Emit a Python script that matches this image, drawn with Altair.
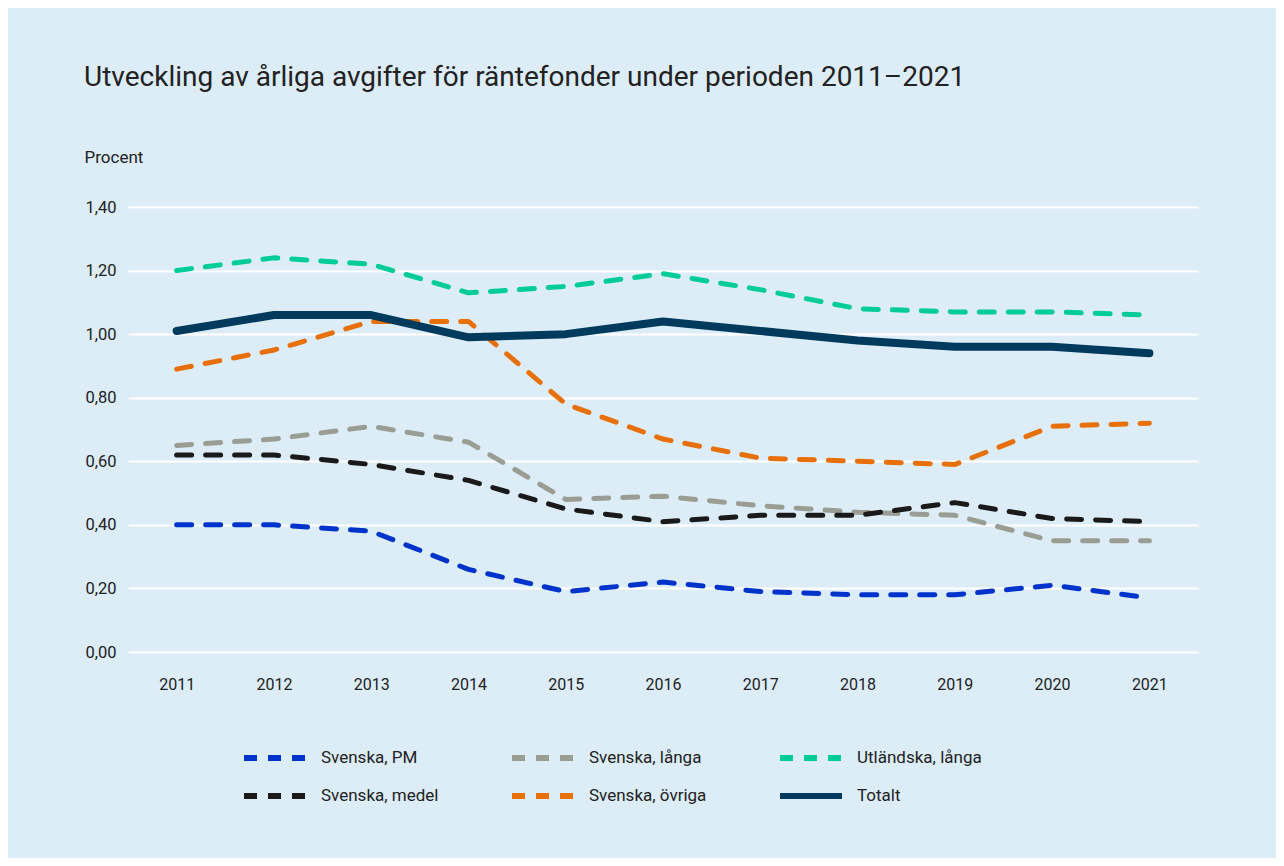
import altair as alt
import pandas as pd

years = ["2011", "2012", "2013", "2014", "2015", "2016", "2017", "2018", "2019", "2020", "2021"]

series_names = ["Svenska, PM", "Svenska, långa", "Utländska, långa",
                "Svenska, medel", "Svenska, övriga", "Totalt"]

svenska_pm = [0.40, 0.40, 0.38, 0.26, 0.19, 0.22, 0.19, 0.18, 0.18, 0.21, 0.17]
svenska_langa = [0.65, 0.67, 0.71, 0.66, 0.48, 0.49, 0.46, 0.44, 0.43, 0.35, 0.35]
utlandska_langa = [1.20, 1.24, 1.22, 1.13, 1.15, 1.19, 1.14, 1.08, 1.07, 1.07, 1.06]
svenska_medel = [0.62, 0.62, 0.59, 0.54, 0.45, 0.41, 0.43, 0.43, 0.47, 0.42, 0.41]
svenska_ovriga = [0.89, 0.95, 1.04, 1.04, 0.78, 0.67, 0.61, 0.60, 0.59, 0.71, 0.72]
totalt = [1.01, 1.06, 1.06, 0.99, 1.00, 1.04, 1.01, 0.98, 0.96, 0.96, 0.94]

color_map = {
    "Svenska, PM": "#0033CC",
    "Svenska, långa": "#9A9D94",
    "Utländska, långa": "#00CC99",
    "Svenska, medel": "#1A1A1A",
    "Svenska, övriga": "#E8700A",
    "Totalt": "#003A5C",
}

# legend is filled column by column: order so that rows read as in the reference
legend_order = ["Svenska, PM", "Svenska, medel", "Svenska, långa",
                "Svenska, övriga", "Utländska, långa", "Totalt"]

values = [svenska_pm, svenska_langa, utlandska_langa, svenska_medel, svenska_ovriga, totalt]
rows = []
for name, vals in zip(series_names, values):
    for y, v in zip(years, vals):
        rows.append({"year": y, "serie": name, "value": v})
df = pd.DataFrame(rows)

FONT = "Roboto"
BG = "#DCEDF7"
TXT = "#222222"

legend = alt.Legend(
    title=None,
    orient="none",
    legendX=113,
    legendY=541,
    columns=3,
    symbolType="stroke",
    symbolSize=3844,
    symbolDash={"expr": "datum.value === 'Totalt' ? [1, 0] : [13, 11]"},
    symbolStrokeWidth=6,
    clipHeight=20,
    labelFontSize=17,
    labelFont=FONT,
    labelColor=TXT,
    labelOffset=12,
    rowPadding=18,
    columnPadding=70,
    labelLimit=300,
)

x_enc = alt.X("year:O", sort=years,
              scale=alt.Scale(type="point", padding=0.5),
              axis=alt.Axis(title=None, labelAngle=0, domain=False, ticks=False,
                            labelPadding=24, labelFontSize=16, labelFont=FONT,
                            labelColor=TXT, grid=False))
y_enc = alt.Y("value:Q",
              scale=alt.Scale(domain=[0, 1.4], nice=False, zero=True),
              axis=alt.Axis(values=[0, 0.2, 0.4, 0.6, 0.8, 1.0, 1.2, 1.4],
                            labelExpr="replace(format(datum.value, '.2f'), '.', ',')",
                            title="Procent", titleAngle=0, titleAlign="left",
                            titleBaseline="middle", titleX=-44, titleY=-50,
                            titleFontSize=17, titleFontWeight="normal", titleFont=FONT,
                            titleColor=TXT,
                            domain=False, ticks=False, labelPadding=12,
                            labelFontSize=16.5, labelFont=FONT, labelColor=TXT,
                            grid=True, gridColor="#FFFFFF", gridWidth=2))
c_enc = alt.Color("serie:N",
                  scale=alt.Scale(domain=legend_order,
                                  range=[color_map[s] for s in legend_order]),
                  legend=legend)

base = alt.Chart(df)

dashed = base.transform_filter(alt.datum.serie != "Totalt").mark_line(
    strokeCap="round", strokeJoin="round", strokeDash=[15, 14], strokeWidth=5
).encode(x=x_enc, y=y_enc, color=c_enc, detail="serie:N")

total = base.transform_filter(alt.datum.serie == "Totalt").mark_line(
    strokeCap="round", strokeJoin="round", strokeWidth=8
).encode(x=x_enc, y=y_enc, color=c_enc)

chart = alt.layer(dashed, total).properties(
    width=1070,
    height=445,
    background=BG,
    padding={"left": 120, "top": 199, "right": 78, "bottom": 206},
    autosize=alt.AutoSizeParams(type="none"),
    title=alt.TitleParams(
        "Utveckling av årliga avgifter för räntefonder under perioden 2011–2021",
        anchor="start", frame="bounds", fontSize=28, font=FONT,
        fontWeight="normal", color=TXT, offset=56,
    ),
).configure_view(stroke=None)

chart.save("out.html", embed_options={"renderer": "svg", "actions": False})
